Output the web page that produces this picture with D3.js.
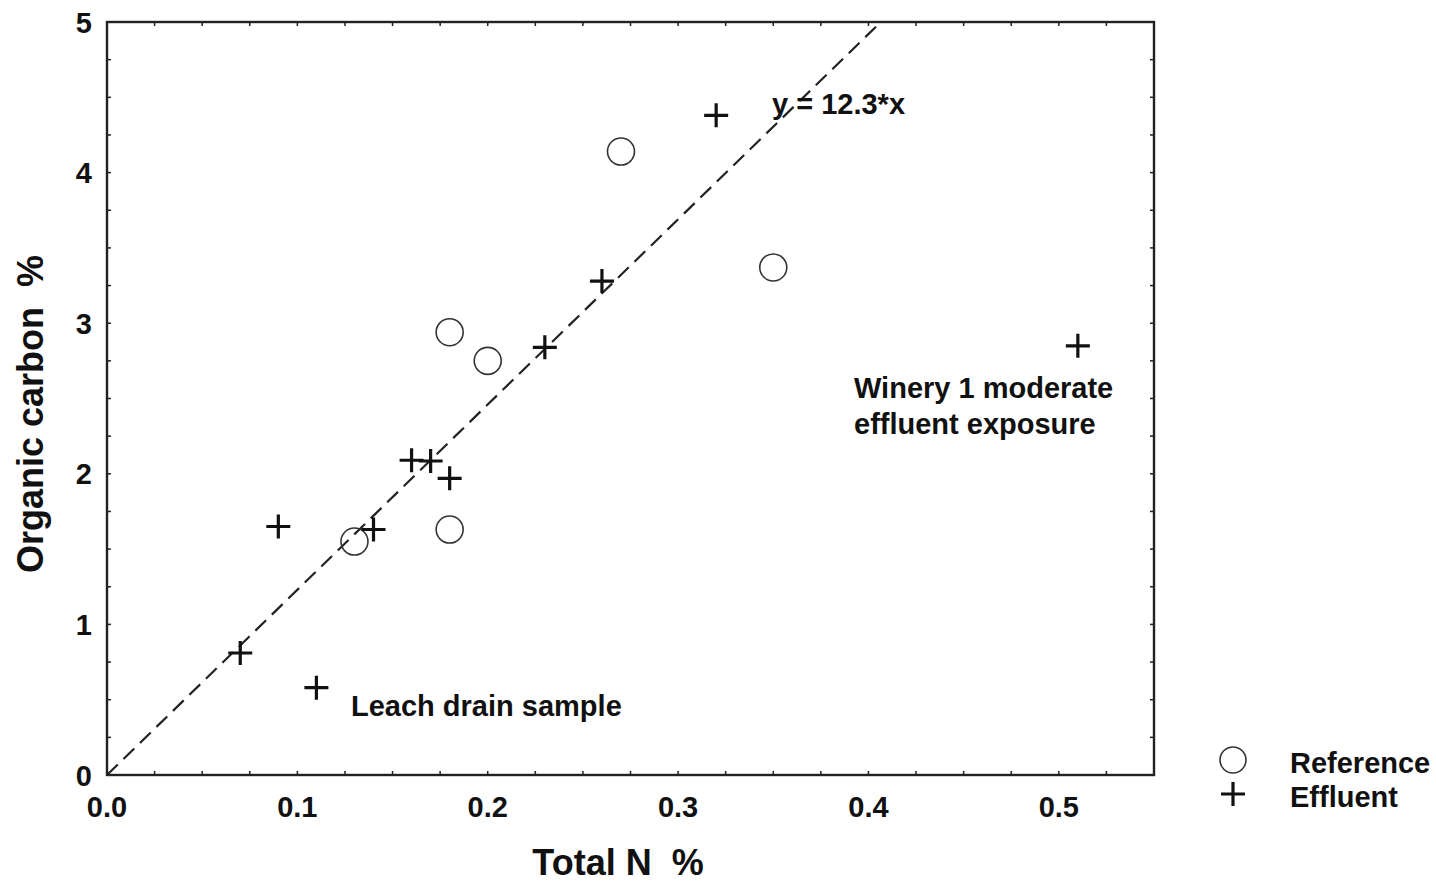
<!DOCTYPE html>
<html>
<head>
<meta charset="utf-8">
<script src="https://cdn.jsdelivr.net/npm/d3@7"></script>
<style>
  body { margin: 0; background: #fff; }
  svg text { font-family: "Liberation Sans", Arial, sans-serif; font-weight: bold; fill: #111; }
</style>
</head>
<body>
<svg id="chart" width="1436" height="884"></svg>
<script>
// reference sites: total N %, organic carbon %
const refN = [0.13, 0.18, 0.18, 0.20, 0.27, 0.35];
const refC = [1.55, 1.63, 2.94, 2.75, 4.14, 3.37];

// effluent sites
const effN = [0.07, 0.11, 0.09, 0.14, 0.16, 0.17, 0.18, 0.23, 0.26, 0.32, 0.51];
const effC = [0.81, 0.58, 1.65, 1.63, 2.09, 2.085, 1.97, 2.84, 3.28, 4.38, 2.85];

const xTicks = [0.0, 0.1, 0.2, 0.3, 0.4, 0.5];
const yTicks = [0, 1, 2, 3, 4, 5];
const slope = 12.3;

const svg = d3.select("#chart");
const plotL = 107, plotR = 1154, plotT = 22, plotB = 775;

const x = d3.scaleLinear().domain([0, 0.55]).range([plotL, plotR]);
const y = d3.scaleLinear().domain([0, 5]).range([plotB, plotT]);

// minor ticks every 0.025 / 0.25, pointing inwards
const xMinor = d3.range(0, 0.5501, 0.025);
const yMinor = d3.range(0, 5.001, 0.25);
const ink = "#222";

const g = svg.append("g");
g.selectAll(".xt").data(xMinor).enter().append("line")
  .attr("x1", d => x(d)).attr("x2", d => x(d))
  .attr("y1", plotB).attr("y2", plotB - 4)
  .attr("stroke", ink).attr("stroke-width", 1.5);
g.selectAll(".xtt").data(xMinor).enter().append("line")
  .attr("x1", d => x(d)).attr("x2", d => x(d))
  .attr("y1", plotT).attr("y2", plotT + 4)
  .attr("stroke", ink).attr("stroke-width", 1.5);
g.selectAll(".yt").data(yMinor).enter().append("line")
  .attr("x1", plotL).attr("x2", plotL + 4)
  .attr("y1", d => y(d)).attr("y2", d => y(d))
  .attr("stroke", ink).attr("stroke-width", 1.5);
g.selectAll(".ytr").data(yMinor).enter().append("line")
  .attr("x1", plotR).attr("x2", plotR - 4)
  .attr("y1", d => y(d)).attr("y2", d => y(d))
  .attr("stroke", ink).attr("stroke-width", 1.5);

g.append("rect")
  .attr("x", plotL).attr("y", plotT)
  .attr("width", plotR - plotL).attr("height", plotB - plotT)
  .attr("fill", "none").attr("stroke", ink).attr("stroke-width", 2.4);

// tick labels
svg.selectAll(".xl").data(xTicks).enter().append("text")
  .attr("x", d => x(d)).attr("y", 817)
  .attr("text-anchor", "middle").attr("font-size", 29)
  .text(d => d.toFixed(1));
svg.selectAll(".yl").data(yTicks).enter().append("text")
  .attr("x", 92).attr("y", d => y(d) + 10.5)
  .attr("text-anchor", "end").attr("font-size", 29)
  .text(d => d);

// axis titles
svg.append("text")
  .attr("x", 618).attr("y", 875)
  .attr("text-anchor", "middle").attr("font-size", 36)
  .attr("xml:space", "preserve")
  .text("Total N  %");
svg.append("text")
  .attr("transform", "translate(43,414) rotate(-90)")
  .attr("text-anchor", "middle").attr("font-size", 36)
  .attr("xml:space", "preserve")
  .text("Organic carbon  %");

// fitted line y = 12.3x, clipped at the top of the frame
const xEnd = 5 / slope;
svg.append("line")
  .attr("x1", x(0)).attr("y1", y(0))
  .attr("x2", x(xEnd)).attr("y2", y(slope * xEnd))
  .attr("stroke", ink).attr("stroke-width", 2.2)
  .attr("stroke-dasharray", "15,8");

// reference circles
svg.selectAll(".ref").data(d3.zip(refN, refC)).enter().append("circle")
  .attr("cx", d => x(d[0])).attr("cy", d => y(d[1]))
  .attr("r", 13.5)
  .attr("fill", "none").attr("stroke", "#333").attr("stroke-width", 1.6);

// effluent crosses
const cross = (sel, s) => sel.attr("d", `M${-s},0H${s}M0,${-s}V${s}`)
  .attr("fill", "none").attr("stroke", "#111").attr("stroke-width", 3.2);
svg.selectAll(".eff").data(d3.zip(effN, effC)).enter().append("path")
  .attr("transform", d => `translate(${x(d[0])},${y(d[1])})`)
  .call(cross, 12);

// annotations
svg.append("text").attr("x", 772).attr("y", 114).attr("font-size", 29)
  .text("y = 12.3*x");
svg.append("text").attr("x", 854).attr("y", 398).attr("font-size", 29)
  .text("Winery 1 moderate");
svg.append("text").attr("x", 854).attr("y", 434).attr("font-size", 29)
  .text("effluent exposure");
svg.append("text").attr("x", 351).attr("y", 716).attr("font-size", 29)
  .text("Leach drain sample");

// legend
svg.append("circle").attr("cx", 1233).attr("cy", 760).attr("r", 13)
  .attr("fill", "none").attr("stroke", "#333").attr("stroke-width", 1.6);
svg.append("path").attr("transform", "translate(1233,794)").call(cross, 12);
svg.append("text").attr("x", 1290).attr("y", 773).attr("font-size", 29).text("Reference");
svg.append("text").attr("x", 1290).attr("y", 807).attr("font-size", 29).text("Effluent");
</script>
</body>
</html>
